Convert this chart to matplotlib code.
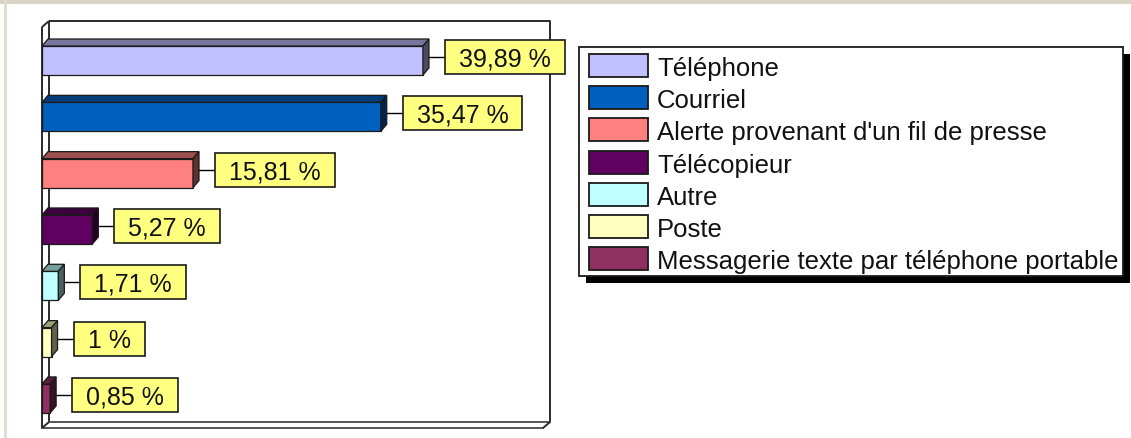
import numpy as np
import matplotlib
matplotlib.use("Agg")
import matplotlib.pyplot as plt
from matplotlib.patches import Rectangle, Polygon
from matplotlib.colors import to_rgb

plt.rcParams["font.family"] = ["Liberation Sans", "DejaVu Sans"]

W, H = 1131, 439

categories = [
    "Téléphone",
    "Courriel",
    "Alerte provenant d'un fil de presse",
    "Télécopieur",
    "Autre",
    "Poste",
    "Messagerie texte par téléphone portable",
]
values = [39.89, 35.47, 15.81, 5.27, 1.71, 1.00, 0.85]
colors = ["#C0C0FF", "#0060C0", "#FF8080", "#600060", "#C0FFFF", "#FFFFC0", "#903060"]


def fr_label(v):
    s = f"{v:.2f}".rstrip("0").rstrip(".")
    return s.replace(".", ",") + " %"


def shade(c, f):
    return tuple(np.array(to_rgb(c)) * f)


# front plane of the 3D box, in pixels; depth offset of the back wall
FX0, FY0, FX1, FY1 = 42, 28, 543, 429
DX, DY = 7, 6
XMAX = 52.46
YLIM = (6.525, -0.595)
BAR_H = 0.515
LABEL_FS = 18
LEGEND_FS = 18.5

fig = plt.figure(figsize=(W / 100, H / 100), dpi=100)
fig.patch.set_facecolor("white")

# pixel-space layer for window chrome, walls and legend
bg = fig.add_axes([0, 0, 1, 1])
bg.set_xlim(0, W)
bg.set_ylim(H, 0)
bg.axis("off")
bg.add_patch(Rectangle((0, 0), W, 5, color="#D8D4C4", lw=0))
bg.add_patch(Rectangle((4, 0), 3, H, color="#E2DECF", lw=0))

wall = dict(color="#2a2a2a", lw=1.4, solid_capstyle="butt")
bx0, by0, bx1, by1 = FX0 + DX, FY0 - DY, FX1 + DX, FY1 - DY
bg.plot([bx0, bx1, bx1], [by0, by0, by1], **wall)
bg.plot([bx0, bx0], [by0, by1], **wall)
bg.plot([bx0, bx1], [by1, by1], color="#555555", lw=1.4)
bg.plot([FX0, bx0], [FY0, by0], **wall)
bg.plot([FX0, FX0], [FY0, FY1], **wall)
bg.plot([FX0, FX1], [FY1, FY1], color="#555555", lw=1.4)
bg.plot([FX1, bx1], [FY1, by1], **wall)
bg.plot([FX0, bx0], [FY1, by1], **wall)

# bar chart in the front plane
ax = fig.add_axes([FX0 / W, 1 - FY1 / H, (FX1 - FX0) / W, (FY1 - FY0) / H])
ax.set_xlim(0, XMAX)
ax.set_ylim(*YLIM)
ax.axis("off")
ax.patch.set_alpha(0)

sx = (FX1 - FX0) / XMAX
sy = (FY1 - FY0) / (YLIM[0] - YLIM[1])
ddx, ddy = 6 / sx, 7 / sy
edge = "#1a1a1a"

texts = []
for i, (v, c) in enumerate(zip(values, colors)):
    y0 = i - BAR_H / 2
    y1 = i + BAR_H / 2
    ax.barh(i, v, height=BAR_H, color=c, edgecolor=edge, lw=0.9, zorder=3)
    top = Polygon([(0, y0), (v, y0), (v + ddx, y0 - ddy), (ddx, y0 - ddy)],
                  closed=True, fc=shade(c, 0.62), ec=edge, lw=0.9, zorder=3)
    side = Polygon([(v, y0), (v + ddx, y0 - ddy), (v + ddx, y1 - ddy), (v, y1)],
                   closed=True, fc=shade(c, 0.38), ec=edge, lw=0.9, zorder=3)
    ax.add_patch(top)
    ax.add_patch(side)

    yc = i - ddy / 2
    box_left = v + ddx + 16 / sx
    ax.plot([v + ddx, box_left], [yc, yc], color="black", lw=1.0, zorder=4)
    t = ax.text(box_left + 14 / sx, yc + 8.5 / sy, fr_label(v), fontsize=LABEL_FS,
                ha="left", va="baseline", color="#111111", zorder=6, clip_on=False)
    texts.append((t, box_left, yc))

fig.canvas.draw()
renderer = fig.canvas.get_renderer()
for t, box_left, yc in texts:
    bb = t.get_window_extent(renderer)
    w = (bb.width + 28) / sx
    h = 34 / sy
    ax.add_patch(Rectangle((box_left, yc - h / 2), w, h, fc="#FFFF80", ec="#1a1a1a",
                           lw=1.2, zorder=5, clip_on=False))

# legend with drop shadow
LX0, LY0, LX1, LY1 = 579, 48, 1123, 277
bg.add_patch(Rectangle((LX0 + 7, LY0 + 7), LX1 - LX0, LY1 - LY0, fc="black", lw=0, zorder=5))
bg.add_patch(Rectangle((LX0, LY0), LX1 - LX0, LY1 - LY0, fc="white", ec="#1a1a1a",
                       lw=1.3, zorder=6))
pitch = 32.2
for i, (name, c) in enumerate(zip(categories, colors)):
    top = 55 + i * pitch
    bg.add_patch(Rectangle((589, top), 59, 23, fc=c, ec="#1a1a1a", lw=1.3, zorder=7))
    bg.text(657, top + 11.5 + 9.5, name, fontsize=LEGEND_FS, ha="left", va="baseline",
            color="#111111", zorder=8)

fig.savefig("out.png", dpi=100)
